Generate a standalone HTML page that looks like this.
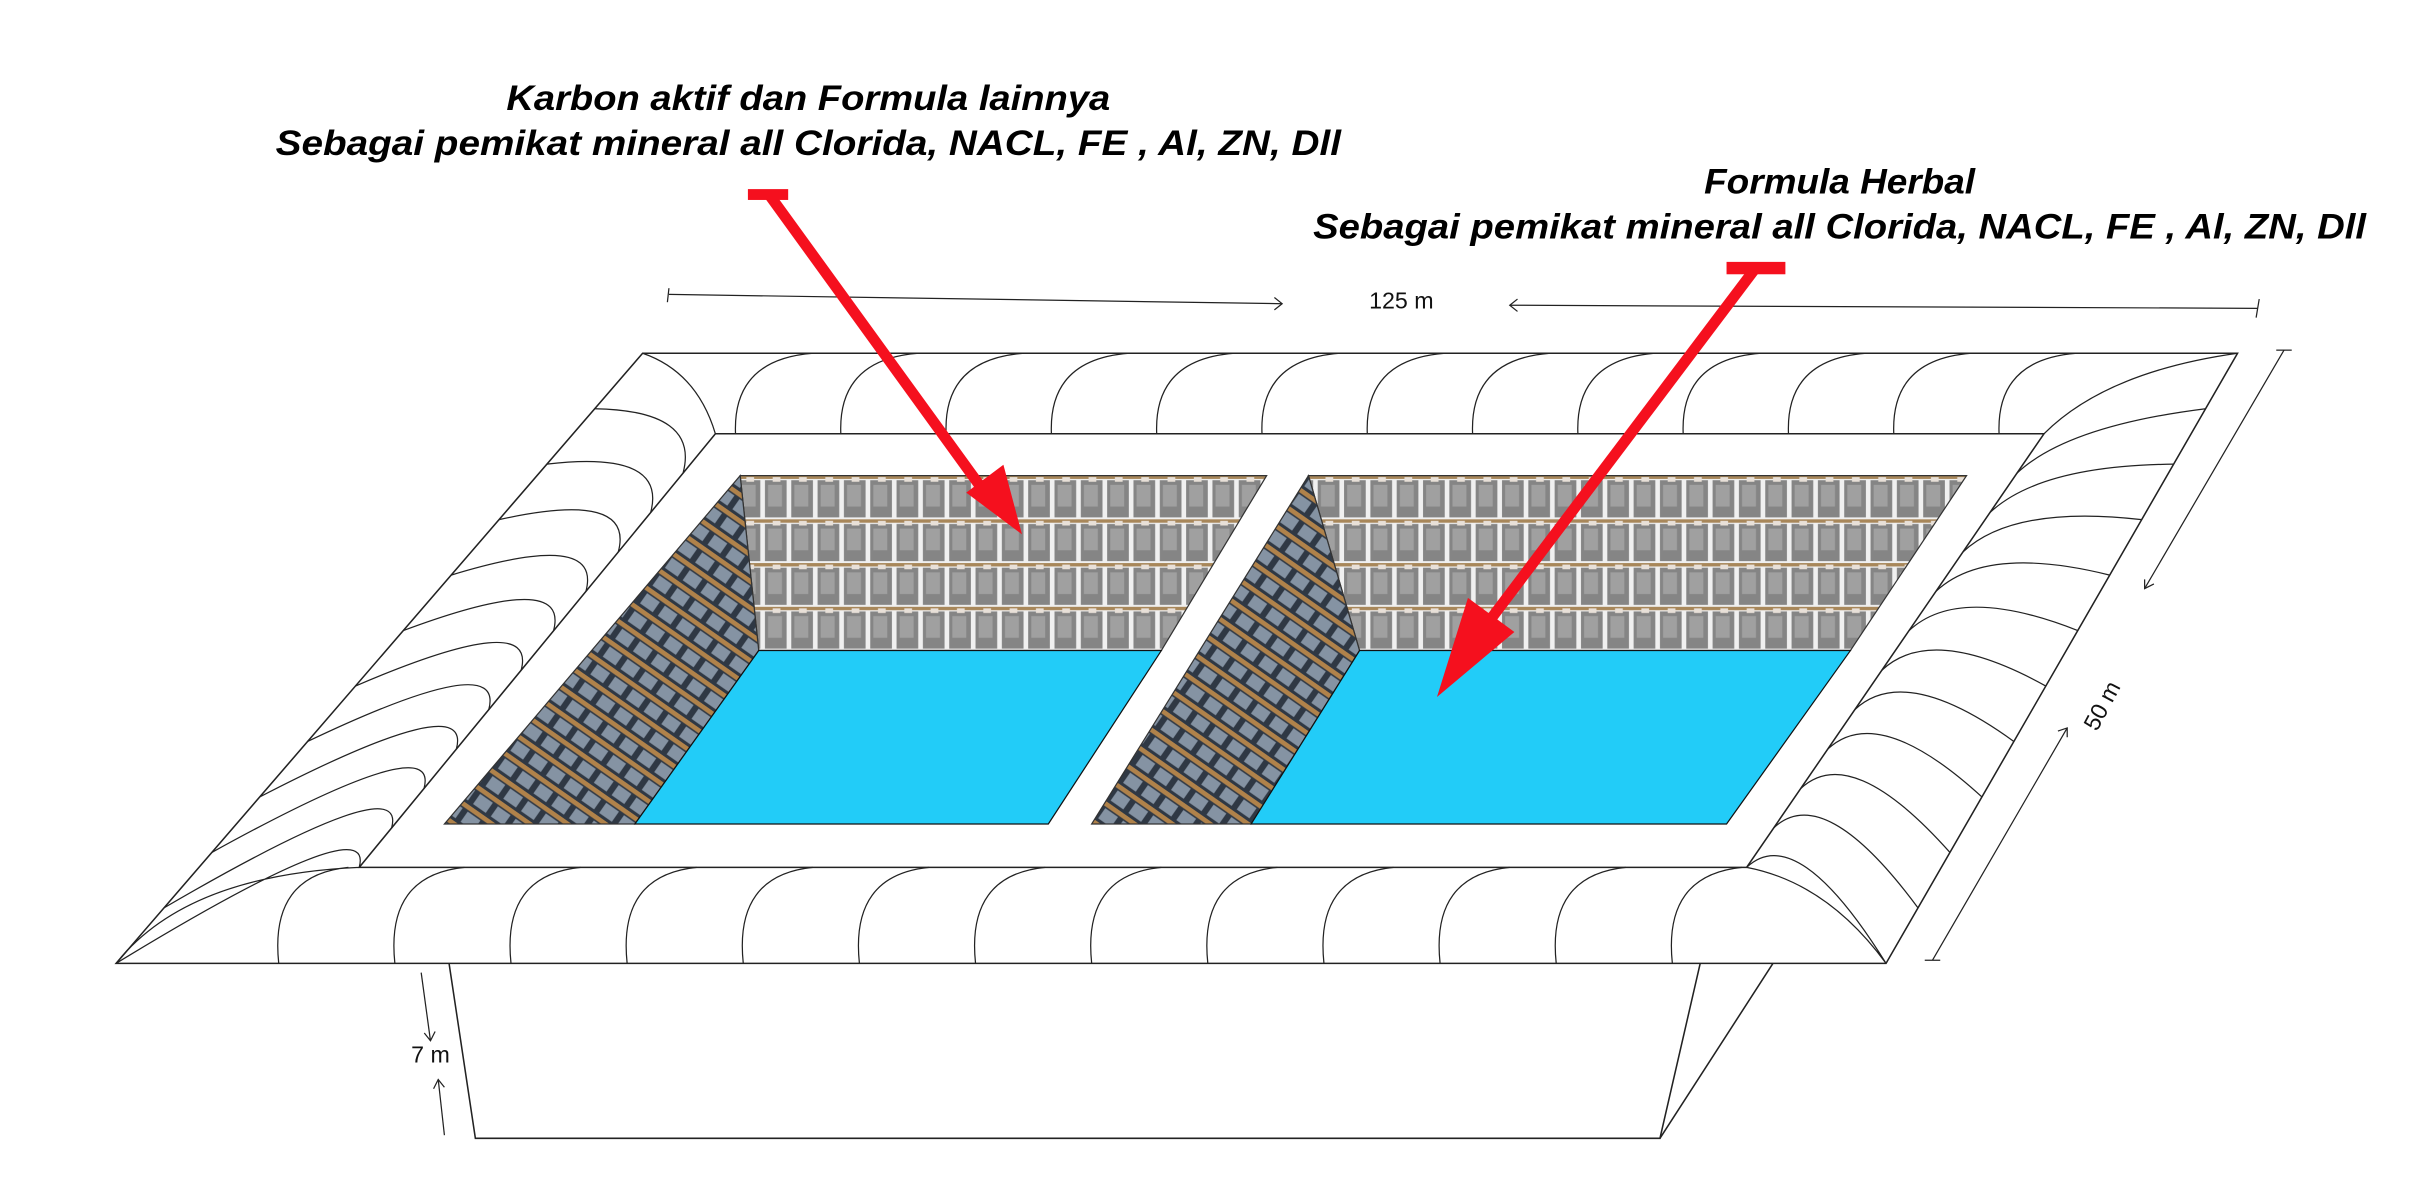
<!DOCTYPE html>
<html><head><meta charset="utf-8"><style>
html,body{margin:0;padding:0;background:#fff;}
svg{display:block;}
.t{font-family:"Liberation Sans Narrow","Liberation Sans",sans-serif;font-weight:bold;font-style:italic;font-size:23px;fill:#000;}
.d{font-family:"Liberation Sans",sans-serif;font-size:15px;fill:#111;}
</style></head><body>
<svg id="s" width="2428" height="1202" viewBox="0 0 1568 776" xmlns="http://www.w3.org/2000/svg">
<defs>
<pattern id="bagB" x="0" y="307" width="17" height="28.25" patternUnits="userSpaceOnUse">
<rect width="17" height="28.25" fill="#f0f0f0"/>
<rect x="1" y="3" width="14" height="24" fill="#858585"/>
<rect x="3" y="6" width="9" height="14" fill="#a0a0a0"/>
<rect x="0" y="0" width="17" height="2.2" fill="#a8875a"/>
<rect x="6" y="1" width="5" height="3" fill="#e8e0d8"/>
</pattern>
<pattern id="bagL" x="0" y="0" width="14" height="14" patternUnits="userSpaceOnUse" patternTransform="rotate(-55)">
<rect width="14" height="14" fill="#2f3844"/>
<rect x="2" y="2" width="8" height="10" fill="#8593a3"/>
<rect x="11" y="0" width="3" height="14" fill="#b0824a"/>
</pattern>
</defs>
<g stroke="#222" stroke-width="1" fill="none">
<polygon points="415,228 1445,228 1218,622 75,622" fill="#fff"/>
<polygon points="462,280 1320,280 1128,560 232,560" fill="#fff"/>
<polyline points="290,622 307,735 1072,735 1098,622"/>
<line x1="1072" y1="735" x2="1145" y2="622"/>
</g>
<g id="arcs" stroke="#222" stroke-width="0.8" fill="none"></g>
<g stroke="#333" stroke-width="0.8">
<polygon points="478,307 818,307 750,420 490,420" fill="url(#bagB)"/>
<polygon points="478,307 490,420 410,532 287,532" fill="url(#bagL)"/>
<polygon points="490,420 750,420 677,532 410,532" fill="#22ccf8" stroke="#111"/>
<polygon points="845,307 1270,307 1195,420 878,420" fill="url(#bagB)"/>
<polygon points="845,307 878,420 808,532 705,532" fill="url(#bagL)"/>
<polygon points="878,420 1195,420 1115,532 808,532" fill="#22ccf8" stroke="#111"/>
</g>
<g stroke="#222" stroke-width="0.8" fill="none">
<line x1="432" y1="190" x2="828" y2="196"/><line x1="432" y1="186" x2="431" y2="195"/>
<polyline points="823,192 828,196 823,200"/>
<line x1="975" y1="197" x2="1458" y2="199"/><line x1="1459" y1="193" x2="1457" y2="205"/>
<polyline points="980,193 975,197 980,201"/>
<line x1="1475" y1="226" x2="1385" y2="380"/><line x1="1470" y1="226" x2="1480" y2="226"/>
<polyline points="1385,374 1385,380 1391,377"/>
<line x1="1335" y1="470" x2="1248" y2="620"/><line x1="1243" y1="620" x2="1253" y2="620"/>
<polyline points="1329,472 1335,470 1335,476"/>
<line x1="272" y1="628" x2="278" y2="672"/><polyline points="274,667 278,672 281,666"/>
<line x1="287" y1="733" x2="283" y2="697"/><polyline points="280,703 283,697 287,702"/>
</g>
<text class="d" x="905" y="199" text-anchor="middle">125 m</text>
<text class="d" x="278" y="686" text-anchor="middle" font-size="10">7 m</text>
<text class="d" x="0" y="0" transform="translate(1362,458) rotate(-62)" text-anchor="middle" font-size="16">50 m</text>
<g stroke="#f5101e" stroke-width="7" fill="none">
<line x1="497" y1="126" x2="636" y2="318"/>
<line x1="1133" y1="174" x2="964" y2="398"/>
</g>
<g fill="#f5101e" stroke="none">
<rect x="483" y="122" width="26" height="7"/>
<polygon points="624,318 648,300 660,345"/>
<rect x="1115" y="169" width="38" height="8"/>
<polygon points="948,386 978,408 928,450"/>
</g>
<text class="t" x="522" y="71" text-anchor="middle" textLength="390" lengthAdjust="spacingAndGlyphs">Karbon aktif dan Formula lainnya</text>
<text class="t" x="522" y="100" text-anchor="middle" textLength="688" lengthAdjust="spacingAndGlyphs">Sebagai pemikat mineral all Clorida, NACL, FE , Al, ZN, Dll</text>
<text class="t" x="1188" y="125" text-anchor="middle" textLength="175" lengthAdjust="spacingAndGlyphs">Formula Herbal</text>
<text class="t" x="1188" y="154" text-anchor="middle" textLength="680" lengthAdjust="spacingAndGlyphs">Sebagai pemikat mineral all Clorida, NACL, FE , Al, ZN, Dll</text>
</svg>
<script>
var g=document.getElementById('arcs'),d='';
for(var x=475;x<1300;x+=68){d+='M'+x+',280 Q'+(x-2)+',232 '+(x+50)+',228 ';}
for(var x=180;x<1120;x+=75){d+='M'+x+',622 Q'+(x-6)+',565 '+(x+45)+',560 ';}
for(var i=0;i<11;i++){var t=i/11;var ix=462-230*t, iy=280+280*t;
 var t2=(i+1)/11;var ox2=415-340*t2, oy2=228+394*t2;
 d+='M'+(ox2)+','+(oy2)+' Q'+(ix-10)+','+(iy-15)+' '+(462-230*t2)+','+(280+280*t2)+' ';}
for(var i=0;i<11;i++){var t=i/11,t2=(i+1)/11;
 var ix=1320-192*t, iy=280+280*t;
 d+='M'+(1320-192*t2)+','+(280+280*t2)+' Q'+(ix+15)+','+(iy-5)+' '+(1445-227*t2)+','+(228+394*t2)+' ';}
d+='M75,622 Q120,565 232,560 M1218,622 Q1180,570 1128,560 M1445,228 Q1360,240 1320,280 M415,228 Q450,240 462,280';
var p=document.createElementNS('http://www.w3.org/2000/svg','path');p.setAttribute('d',d);g.appendChild(p);
</script>
</body></html>
